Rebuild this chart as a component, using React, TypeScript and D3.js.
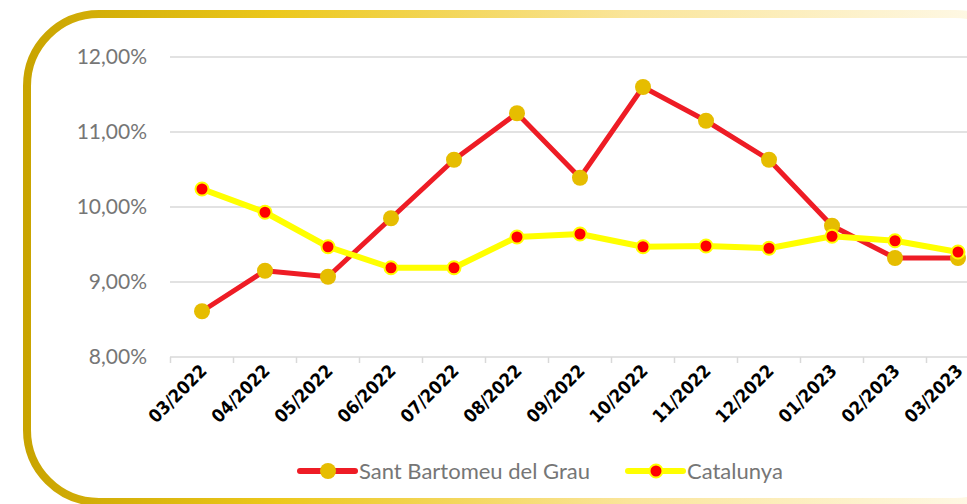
import React, { useEffect, useRef } from 'react';
import * as d3 from 'd3';

const months = ['03/2022', '04/2022', '05/2022', '06/2022', '07/2022', '08/2022', '09/2022', '10/2022', '11/2022', '12/2022', '01/2023', '02/2023', '03/2023'];
const santBartomeu = [8.61, 9.15, 9.07, 9.85, 10.63, 11.25, 10.39, 11.6, 11.15, 10.63, 9.75, 9.32, 9.32];
const catalunya = [10.24, 9.93, 9.47, 9.19, 9.19, 9.6, 9.64, 9.47, 9.48, 9.45, 9.61, 9.55, 9.4];
const yTicks = [8, 9, 10, 11, 12];

const W = 967, H = 504;
const labelFont = 'Lato, "Open Sans", sans-serif';

export default function App() {
    const ref = useRef<SVGSVGElement>(null);

    useEffect(() => {
        const svg = d3.select(ref.current);
        svg.selectAll('*').remove();

        // gold rounded frame
        const defs = svg.append('defs');
        const grad = defs.append('linearGradient').attr('id', 'frame').attr('x1', '0').attr('x2', '1').attr('y1', '0').attr('y2', '0');
        grad.append('stop').attr('offset', '0%').attr('stop-color', '#c9a400');
        grad.append('stop').attr('offset', '25%').attr('stop-color', '#ecc81c');
        grad.append('stop').attr('offset', '60%').attr('stop-color', '#fae59a');
        grad.append('stop').attr('offset', '100%').attr('stop-color', '#fffbf0');
        svg.append('rect')
            .attr('x', 27).attr('y', 14).attr('width', 1000).attr('height', 488)
            .attr('rx', 72).attr('ry', 72)
            .attr('fill', 'none').attr('stroke', 'url(#frame)').attr('stroke-width', 8);

        const x = d3.scaleBand().domain(months).range([170.5, 170.5 + 63 * months.length]);
        const y = d3.scaleLinear().domain([8, 12]).range([357, 57]);

        // grid
        svg.append('g').selectAll('line').data(yTicks).enter().append('line')
            .attr('x1', 170).attr('x2', W)
            .attr('y1', d => y(d)).attr('y2', d => y(d))
            .attr('stroke', '#d9d9d9').attr('stroke-width', 1.5);

        // y labels
        svg.append('g').selectAll('text').data(yTicks).enter().append('text')
            .attr('x', 147).attr('y', d => y(d) + 7)
            .attr('text-anchor', 'end')
            .attr('font-family', labelFont).attr('font-size', 21).attr('fill', '#767676')
            .text(d => d3.format('.2f')(d).replace('.', ',') + '%');

        // x ticks
        svg.append('g').selectAll('line').data(months).enter().append('line')
            .attr('x1', d => x(d)!).attr('x2', d => x(d)!)
            .attr('y1', 357).attr('y2', 363)
            .attr('stroke', '#d9d9d9').attr('stroke-width', 1.5);

        // x labels
        svg.append('g').selectAll('text').data(months).enter().append('text')
            .attr('transform', d => `translate(${x(d)! + x.bandwidth() / 2 + 6},372) rotate(-45)`)
            .attr('text-anchor', 'end')
            .attr('font-family', '"Liberation Sans Narrow", "DejaVu Sans Condensed", sans-serif')
            .attr('font-stretch', 'condensed')
            .attr('font-weight', 'bold').attr('font-size', 18).attr('fill', '#000')
            .text(d => d);

        const cx = (i: number) => x(months[i])! + x.bandwidth() / 2;
        const line = d3.line<number>().x((d, i) => cx(i)).y(d => y(d));

        // Sant Bartomeu del Grau
        svg.append('path').datum(santBartomeu).attr('d', line)
            .attr('fill', 'none').attr('stroke', '#ee1c25').attr('stroke-width', 5).attr('stroke-linejoin', 'round');
        svg.append('g').selectAll('circle').data(santBartomeu).enter().append('circle')
            .attr('cx', (d, i) => cx(i)).attr('cy', d => y(d)).attr('r', 8)
            .attr('fill', '#e6bd00');

        // Catalunya
        svg.append('path').datum(catalunya).attr('d', line)
            .attr('fill', 'none').attr('stroke', '#ffff00').attr('stroke-width', 6).attr('stroke-linejoin', 'round');
        svg.append('g').selectAll('circle').data(catalunya).enter().append('circle')
            .attr('cx', (d, i) => cx(i)).attr('cy', d => y(d)).attr('r', 6.5)
            .attr('fill', '#ff0000').attr('stroke', '#ffff00').attr('stroke-width', 2);

        // legend
        const legend = [
            { name: 'Sant Bartomeu del Grau', x: 300, line: '#ee1c25', fill: '#e6bd00', stroke: 'none', r: 8 },
            { name: 'Catalunya', x: 628, line: '#ffff00', fill: '#ff0000', stroke: '#ffff00', r: 6.5 },
        ];
        const lg = svg.append('g').selectAll('g').data(legend).enter().append('g')
            .attr('transform', d => `translate(${d.x},471)`);
        lg.append('line').attr('x1', 0).attr('x2', 55)
            .attr('stroke', d => d.line).attr('stroke-width', 6).attr('stroke-linecap', 'round');
        lg.append('circle').attr('cx', 28).attr('r', d => d.r)
            .attr('fill', d => d.fill).attr('stroke', d => d.stroke).attr('stroke-width', 2);
        lg.append('text').attr('x', 59).attr('y', 8)
            .attr('font-family', labelFont).attr('font-size', 22).attr('fill', '#767676')
            .text(d => d.name);
    }, []);

    return (
        <svg ref={ref} width={W} height={H} xmlns="http://www.w3.org/2000/svg"
             style={{ position: 'absolute', left: 0, top: 0, background: '#fff' }} />
    );
}
